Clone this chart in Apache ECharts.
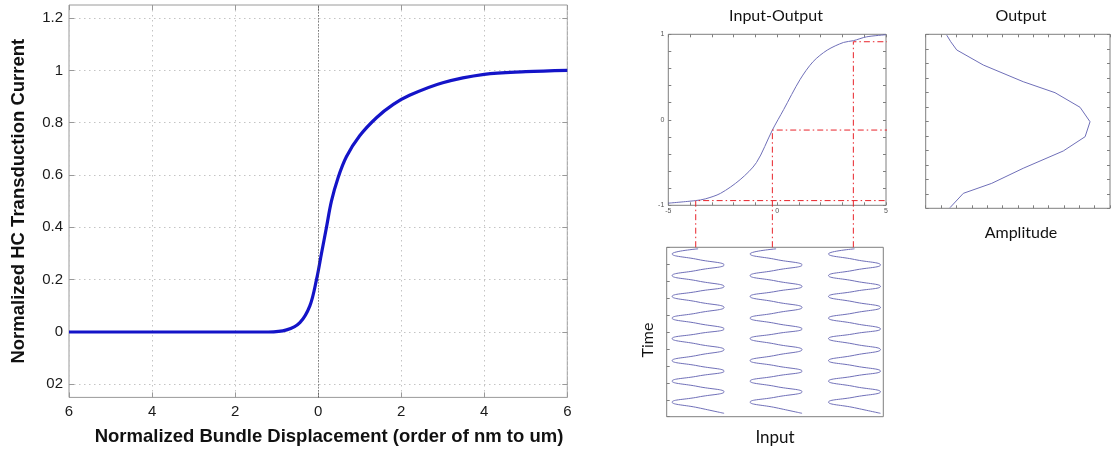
<!DOCTYPE html>
<html>
<head>
    <meta charset="UTF-8">
    <title>HC transduction</title>
    <script src="https://cdn.jsdelivr.net/npm/echarts@6/dist/echarts.min.js"></script>
    <style>
        body { margin: 0; background: #fff; }
        #main { width: 1112px; height: 449px; }
    </style>
</head>
<body>
<div id="main"></div>
<script>
    // left chart: transduction curve
    var hcX = [-6, -2, -1.2, -0.76, -0.44, -0.2, -0.04, 0.08, 0.2, 0.32, 0.48, 0.68, 1.0, 1.41, 1.81, 2.2, 3, 4, 5, 6];
    var hcY = [0, 0, 0, 0.008, 0.036, 0.1, 0.2, 0.3, 0.4, 0.5, 0.59, 0.67, 0.75, 0.82, 0.87, 0.905, 0.953, 0.985, 0.995, 1.0];
    var hcXTicks = [-6, -4, -2, 0, 2, 4, 6];
    var hcXTickText = ['6', '4', '2', '0', '2', '4', '6'];
    var hcYTicks = [-0.2, 0, 0.2, 0.4, 0.6, 0.8, 1, 1.2];
    var hcYTickText = ['02', '0', '0.2', '0.4', '0.6', '0.8', '1', '1.2'];

    // input-output curve
    var ioX = [-5, -3.75, -3.3, -2.6, -1.7, -0.95, -0.22, 0.3, 1.05, 1.65, 2.3, 3.05, 3.5, 4.1, 5];
    var ioY = [-0.975, -0.945, -0.925, -0.86, -0.7, -0.5, -0.12, 0.12, 0.47, 0.68, 0.815, 0.905, 0.925, 0.97, 0.995];
    var ioXTicks = [-5, 0, 5];
    var ioYTicks = [-1, 0, 1];

    // output distribution
    var outAmp = [1.37, 1.63, 2.02, 3.75, 6.35, 8.42, 10.05, 10.7, 10.38, 8.96, 6.35, 4.3, 2.45, 1.58];
    var outY = [0.99, 0.915, 0.82, 0.647, 0.455, 0.329, 0.161, -0.005, -0.177, -0.341, -0.54, -0.713, -0.828, -0.993];

    // input sine waves (time downwards)
    var waveCenters = [-3.55, 0.05, 3.67];
    var waveTime = [0.09, 0.39, 0.72, 1.04, 1.35, 1.67, 1.99, 2.31, 2.6, 2.9, 3.23, 3.55, 3.87, 4.18, 4.5, 4.82,
        5.1, 5.39, 5.72, 6.04, 6.37, 6.69, 7.0, 7.31, 7.6, 7.9, 8.22, 8.53, 8.84, 9.14, 9.47, 9.8];
    var waveSwing = [0, -1.2, 0, 1.2, 0, -1.2, 0, 1.2, 0, -1.2, 0, 1.2, 0, -1.2, 0, 1.2,
        0, -1.2, 0, 1.2, 0, -1.2, 0, 1.2, 0, -1.2, 0, 1.2, 0, -1.2, 0, 1.2];

    // red projection guides (in input-output axis units)
    var guideX = [-3.74, -0.22, 3.5];
    var guideY = [-0.945, -0.12, 0.913];
    var guideEndX = [7.99, 14.22, 7.99];
    var guideBottomY = -1.49;

    function pairs(xs, ys) {
        var out = [];
        for (var i = 0; i < xs.length; i++) out.push([xs[i], ys[i]]);
        return out;
    }

    var dots = [1.5, 3.5];
    var frameGray = '#7f7f7f';
    var waveColor = '#6f6fb8';

    var series = [
        {
            type: 'line', xAxisIndex: 0, yAxisIndex: 0, data: pairs(hcX, hcY),
            smooth: 0.35, symbol: 'none', lineStyle: {color: '#1414c8', width: 3.2},
            markLine: {
                silent: true, symbol: 'none', label: {show: false},
                lineStyle: {color: '#444', type: [1, 2], width: 1},
                data: [{xAxis: 0}]
            }
        },
        {
            type: 'line', xAxisIndex: 3, yAxisIndex: 3, data: pairs(ioX, ioY),
            smooth: 0.3, symbol: 'none', lineStyle: {color: waveColor, width: 1}
        },
        {
            type: 'line', xAxisIndex: 5, yAxisIndex: 5, data: pairs(outAmp, outY),
            symbol: 'none', lineStyle: {color: waveColor, width: 1}
        }
    ];

    for (var w = 0; w < waveCenters.length; w++) {
        var pts = [];
        for (var k = 0; k < waveTime.length; k++) {
            pts.push([waveCenters[w] + waveSwing[k], waveTime[k]]);
        }
        series.push({
            type: 'line', xAxisIndex: 7, yAxisIndex: 7, data: pts,
            smooth: 0.5, symbol: 'none', lineStyle: {color: waveColor, width: 1}
        });
    }

    for (var g = 0; g < guideX.length; g++) {
        series.push({
            type: 'line', xAxisIndex: 3, yAxisIndex: 3, clip: false, z: 5,
            data: [[guideX[g], guideBottomY], [guideX[g], guideY[g]], [guideEndX[g], guideY[g]]],
            symbol: 'none', lineStyle: {color: '#e8232a', width: 1, type: [6, 3, 1.5, 3]}
        });
    }

    // axes only draw inner ticks, the frame comes from the grid border
    function axis(base, extra) {
        var o = {
            axisLine: {show: false, onZero: false},
            axisTick: {show: true, inside: true, length: 3, lineStyle: {color: frameGray}},
            axisLabel: {show: false},
            splitLine: {show: false}
        };
        for (var key in extra) o[key] = extra[key];
        for (var key2 in base) o[key2] = base[key2];
        return o;
    }

    var hcTicks = {show: true, inside: true, length: 5, lineStyle: {color: '#999'}};

    var option = {
        backgroundColor: '#fff',
        animation: false,
        grid: [
            {left: 69, top: 5, width: 498.3, height: 392.4, show: true, borderColor: '#9a9a9a', borderWidth: 1, backgroundColor: 'transparent'},
            {left: 69, top: 18.1, width: 498.3, height: 366.2},
            {left: 668.3, top: 34.3, width: 217.7, height: 171, show: true, borderColor: frameGray, borderWidth: 1, backgroundColor: 'transparent'},
            {left: 925.7, top: 34.3, width: 184.3, height: 174, show: true, borderColor: frameGray, borderWidth: 1, backgroundColor: 'transparent'},
            {left: 666.7, top: 247.3, width: 216.6, height: 169.4, show: true, borderColor: frameGray, borderWidth: 1, backgroundColor: 'transparent'}
        ],
        xAxis: [
            axis({gridIndex: 0, type: 'value', min: -6, max: 6, interval: 2, position: 'bottom'}, {
                axisTick: hcTicks,
                axisLabel: {
                    show: true, fontSize: 15, color: '#1a1a1a', fontFamily: 'Liberation Sans', margin: 7,
                    formatter: function (v) {
                        var i = hcXTicks.indexOf(Math.round(v));
                        return i < 0 ? '' : hcXTickText[i];
                    }
                },
                splitLine: {show: true, lineStyle: {color: '#c4c4c4', type: dots}}
            }),
            axis({gridIndex: 0, type: 'value', min: -6, max: 6, interval: 2, position: 'top'}, {axisTick: hcTicks}),
            {gridIndex: 1, type: 'value', min: -6, max: 6, show: false},
            axis({gridIndex: 2, type: 'value', min: -5, max: 5, interval: 1, position: 'bottom'}, {
                axisLabel: {
                    show: true, fontSize: 7, color: '#555', fontFamily: 'Liberation Sans', margin: 2,
                    formatter: function (v) {
                        return ioXTicks.indexOf(Math.round(v * 100) / 100) < 0 ? '' : String(Math.round(v));
                    }
                }
            }),
            axis({gridIndex: 2, type: 'value', min: -5, max: 5, interval: 1, position: 'top'}, {}),
            axis({gridIndex: 3, type: 'value', min: 0, max: 12, interval: 1, position: 'bottom'}, {}),
            axis({gridIndex: 3, type: 'value', min: 0, max: 12, interval: 1, position: 'top'}, {}),
            {gridIndex: 4, type: 'value', min: -5, max: 5, show: false}
        ],
        yAxis: [
            {gridIndex: 0, type: 'value', min: -0.25, max: 1.25, show: false},
            axis({gridIndex: 1, type: 'value', min: -0.2, max: 1.2, interval: 0.2, position: 'left'}, {
                axisTick: hcTicks,
                axisLabel: {
                    show: true, fontSize: 15, color: '#1a1a1a', fontFamily: 'Liberation Sans', margin: 6,
                    formatter: function (v) {
                        var i = hcYTicks.indexOf(Math.round(v * 10) / 10);
                        return i < 0 ? '' : hcYTickText[i];
                    }
                },
                splitLine: {show: true, lineStyle: {color: '#c4c4c4', type: dots}},
                name: 'Normalized HC Transduction Current', nameLocation: 'middle', nameRotate: 90, nameGap: 41,
                nameTextStyle: {fontSize: 18.5, fontWeight: 'bold', color: '#111', fontFamily: 'Liberation Sans'}
            }),
            axis({gridIndex: 1, type: 'value', min: -0.2, max: 1.2, interval: 0.2, position: 'right'}, {axisTick: hcTicks}),
            axis({gridIndex: 2, type: 'value', min: -1, max: 1, interval: 0.2, position: 'left'}, {
                axisLabel: {
                    show: true, fontSize: 7, color: '#555', fontFamily: 'Liberation Sans', margin: 4,
                    formatter: function (v) {
                        return ioYTicks.indexOf(Math.round(v * 100) / 100) < 0 ? '' : String(Math.round(v));
                    }
                }
            }),
            axis({gridIndex: 2, type: 'value', min: -1, max: 1, interval: 0.2, position: 'right'}, {}),
            axis({gridIndex: 3, type: 'value', min: -1, max: 1, interval: 2 / 12, position: 'left'}, {}),
            axis({gridIndex: 3, type: 'value', min: -1, max: 1, interval: 2 / 12, position: 'right'}, {}),
            axis({gridIndex: 4, type: 'value', min: 0, max: 10, interval: 1, inverse: true, position: 'left'}, {})
        ],
        graphic: [
            {type: 'text', x: 329, y: 437, style: {text: 'Normalized Bundle Displacement (order of nm to um)', font: 'bold 18.5px "Liberation Sans"', fill: '#111', align: 'center', verticalAlign: 'middle'}},
            {type: 'text', x: 776, y: 16, style: {text: 'Input-Output', font: '16px Lato', fill: '#111', align: 'center', verticalAlign: 'middle'}},
            {type: 'text', x: 1021, y: 16, style: {text: 'Output', font: '16px Lato', fill: '#111', align: 'center', verticalAlign: 'middle'}},
            {type: 'text', x: 1021, y: 233, style: {text: 'Amplitude', font: '16px Lato', fill: '#111', align: 'center', verticalAlign: 'middle'}},
            {type: 'text', x: 775, y: 438, style: {text: 'Input', font: '17px Lato', fill: '#111', align: 'center', verticalAlign: 'middle'}},
            {type: 'text', x: 648, y: 340, rotation: Math.PI / 2, style: {text: 'Time', font: '16px Lato', fill: '#111', align: 'center', verticalAlign: 'middle'}}
        ],
        series: series
    };

    var chart = echarts.init(document.getElementById('main'), null, {renderer: 'canvas'});
    chart.setOption(option);
</script>
</body>
</html>
